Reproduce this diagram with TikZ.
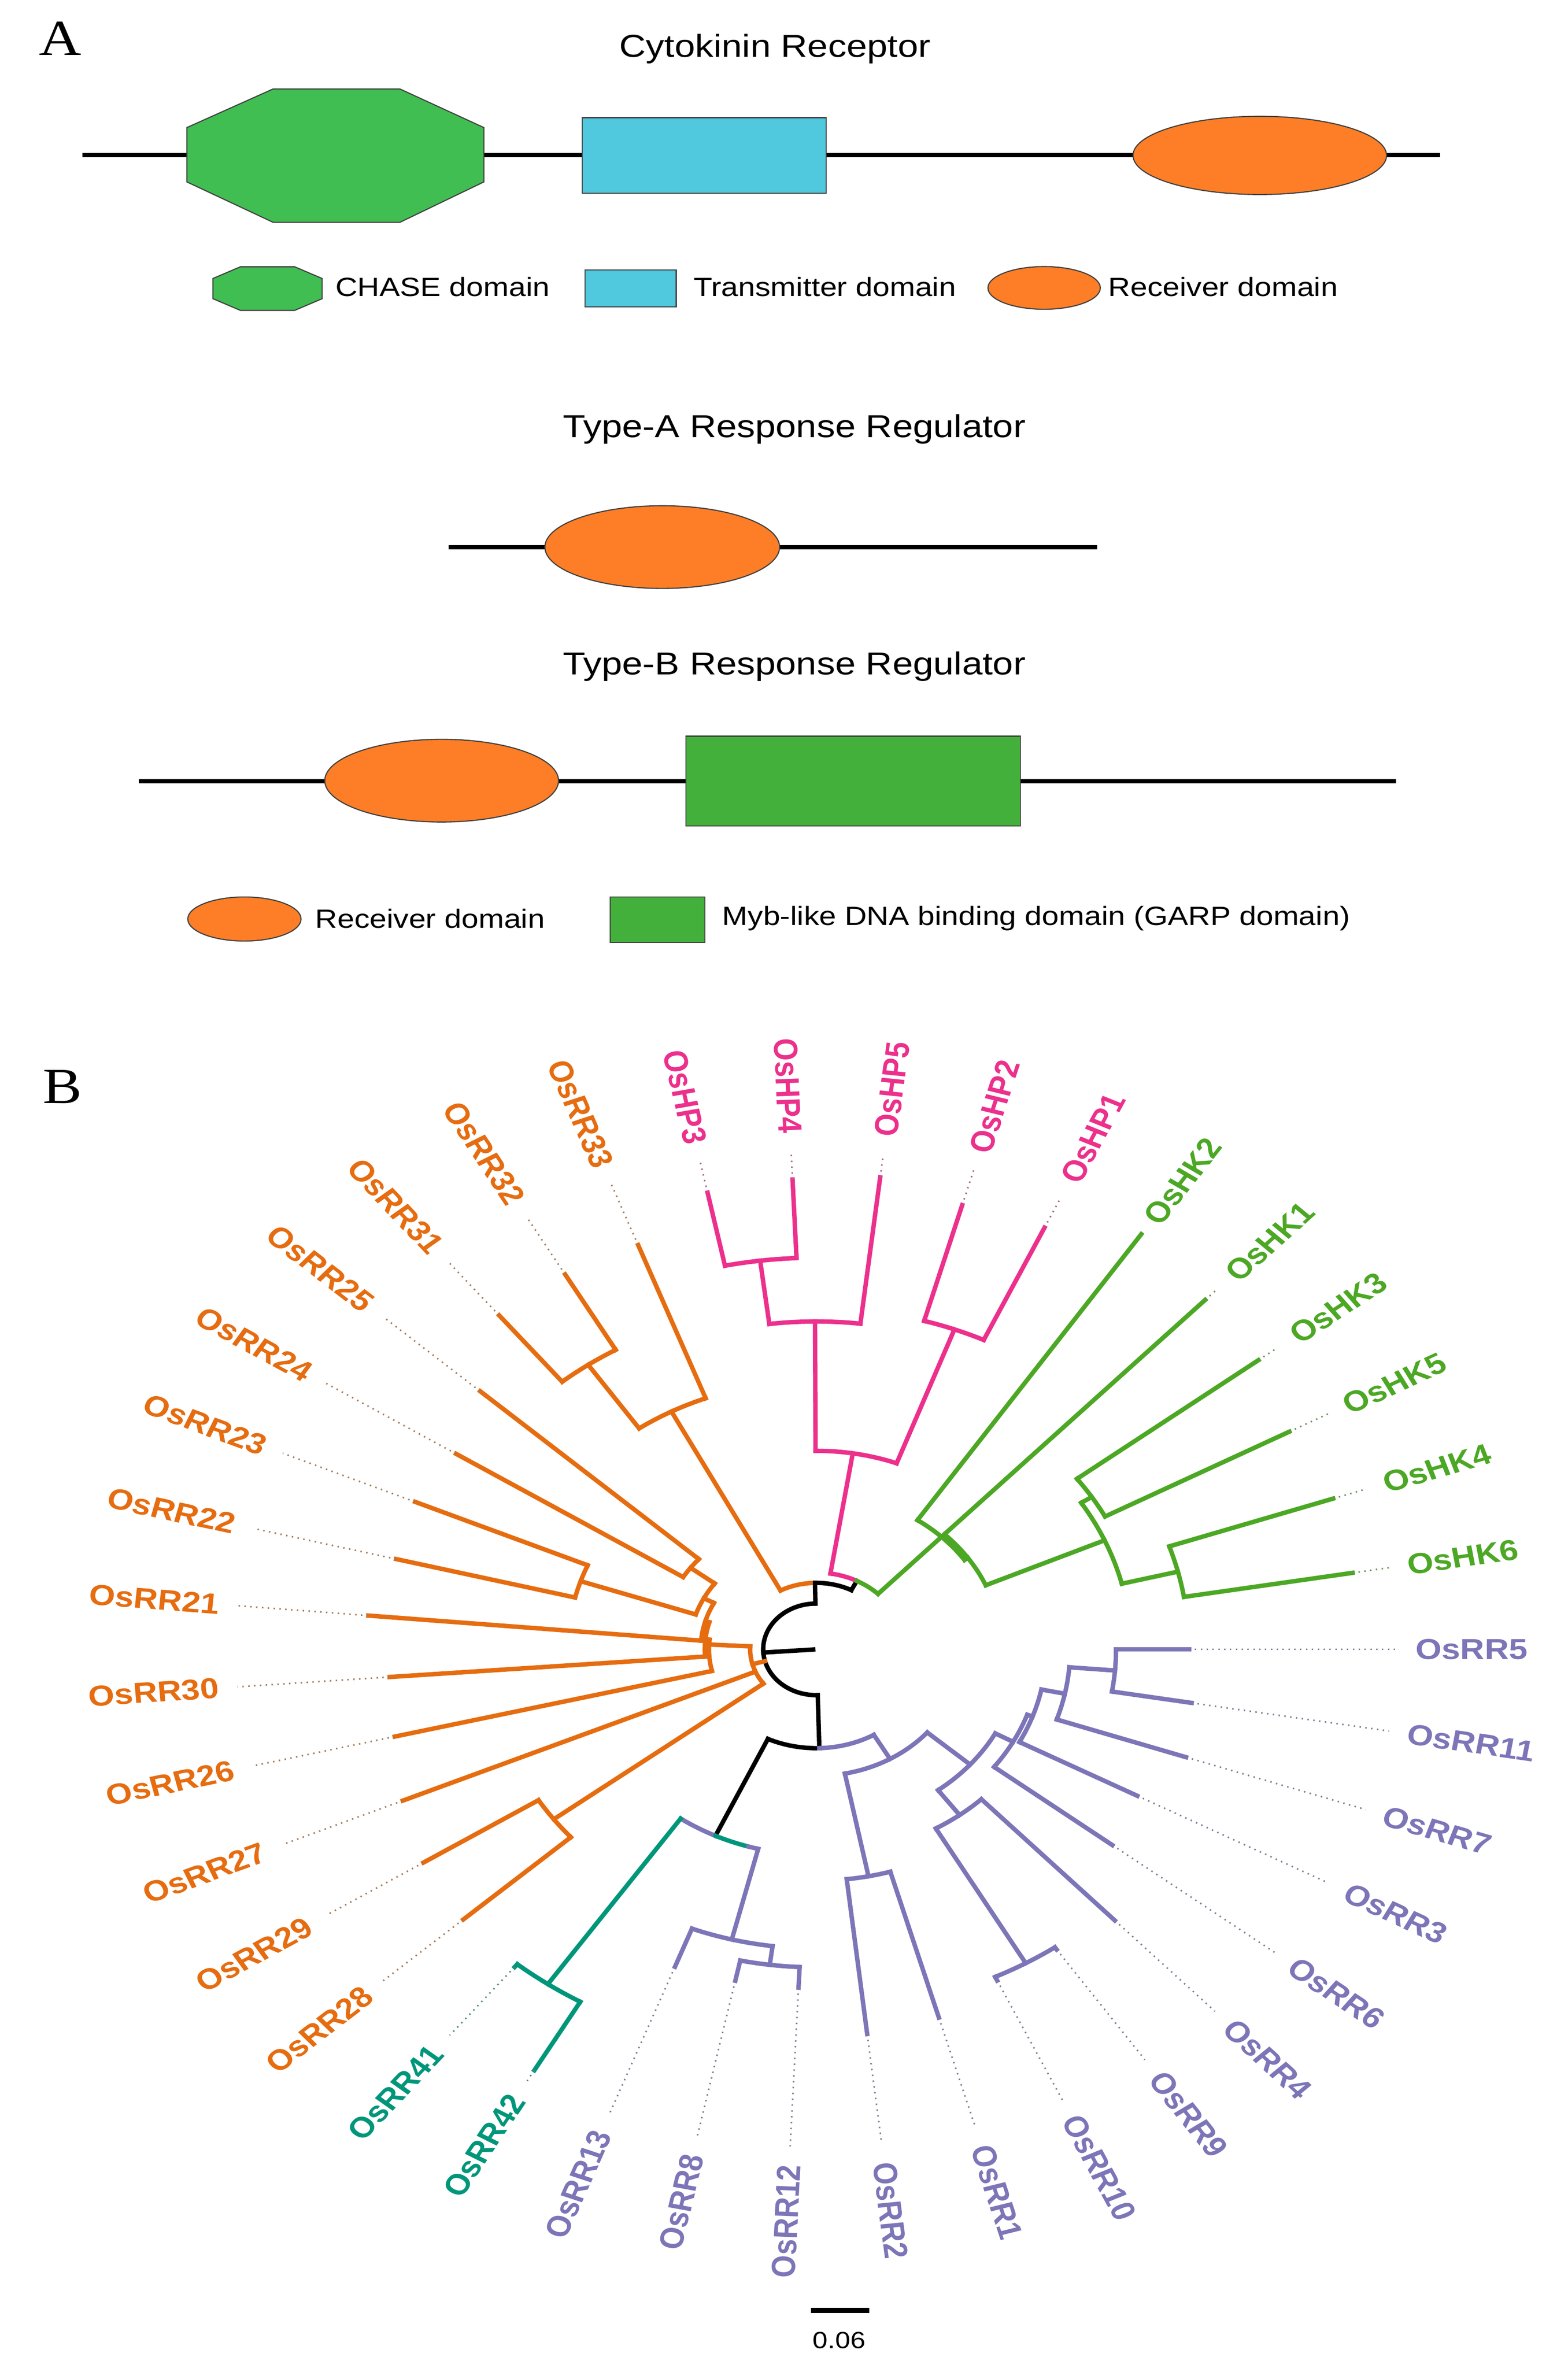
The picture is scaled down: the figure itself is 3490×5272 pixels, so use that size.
\documentclass[tikz,border=0pt]{standalone}
\usepackage{fontspec}
\setmainfont{Liberation Sans}
\newfontfamily\serifA{Liberation Serif}
\usetikzlibrary{shapes.geometric}
\definecolor{tor}{RGB}{230,108,16}
\definecolor{tpk}{RGB}{236,48,140}
\definecolor{tgr}{RGB}{76,168,36}
\definecolor{tpu}{RGB}{124,118,184}
\definecolor{tte}{RGB}{0,150,122}
\definecolor{aor}{RGB}{253,126,38}
\definecolor{agr}{RGB}{64,190,82}
\definecolor{acy}{RGB}{80,200,222}
\definecolor{agrb}{RGB}{67,176,60}
\tikzset{
  br/.style={line width=2.8pt, line cap=rect},
  lead/.style={line width=1pt, dash pattern=on 0.9pt off 2.8pt, shorten >=12pt},
  lab/.style={inner sep=0pt, outer sep=0pt, font=\bfseries\fontsize{18.3pt}{20pt}\selectfont},
  bb/.style={line width=2.7pt},
  dom/.style={draw=black!75, line width=0.7pt, inner sep=0pt},
  ttl/.style={inner sep=0pt, xscale=1.16, font=\fontsize{20.1pt}{22pt}\selectfont},
  lg/.style={inner sep=0pt, xscale=1.16, anchor=west, font=\fontsize{16.7pt}{18pt}\selectfont},
  pl/.style={inner sep=0pt, xscale=1.16, font=\serifA\fontsize{32pt}{34pt}\selectfont},
}
\newcommand\tarc[4]{\draw[br,#1] (#3:#2) arc[start angle=#3, end angle=#4, radius=#2];}
\newcommand\trad[4]{\draw[br,#1] (#2:#3) -- (#2:#4);}
\newcommand\tleaf[6]{%
  \draw[br,#2] (#3:#4) -- (#3:#5) coordinate (t#1);
  \pgfmathsetmacro\lfcos{cos(#3)}%
  \ifdim\lfcos pt<-0.0001pt
    \pgfmathsetmacro\lfrot{180-(#3)}%
    \node[lab,text=#2,xscale=1.16,rotate=\lfrot,anchor=east] (l#1) at (#3:1150) {#6};
  \else
    \pgfmathsetmacro\lfrot{-(#3)}%
    \node[lab,text=#2,xscale=1.16,rotate=\lfrot,anchor=west] (l#1) at (#3:1150) {#6};
  \fi
  \draw[lead,draw=#2!35!gray] (t#1) -- (l#1);
}
\begin{document}
\begin{tikzpicture}[x=0.01cm,y=-0.01cm]
\fill[white] (0,0) rectangle (3490,5272);
\useasboundingbox (0,0) rectangle (3490,5272);

% ---------------- Panel A ----------------
\node[pl] (pA) at (134,86) {A};
\node[ttl] (tCR) at (1725,109) {Cytokinin Receptor};
\coordinate (cr0) at (183,345); \coordinate (cr1) at (3205,345);
\draw[bb] (cr0) -- (cr1);
\draw[dom,fill=agr] (608,198) -- (890,198) -- (1077,284) -- (1077,405) -- (890,495) -- (608,495) -- (416,405) -- (416,284) -- cycle;
\node[dom,fill=acy,minimum width=5.43cm,minimum height=1.68cm] (crT) at (1567.5,346) {};
\node[dom,ellipse,fill=aor,minimum width=5.64cm,minimum height=1.74cm] (crR) at (2804,346) {};

\draw[dom,fill=agr] (535,594) -- (656,594) -- (717,620) -- (717,665) -- (656,691) -- (535,691) -- (474,665) -- (474,620) -- cycle;
\node[lg] (lgC) at (746,639) {CHASE domain};
\node[dom,fill=acy,minimum width=2.03cm,minimum height=0.82cm] (lgTb) at (1403.5,642) {};
\node[lg] (lgT) at (1543,639) {Transmitter domain};
\node[dom,ellipse,fill=aor,minimum width=2.5cm,minimum height=0.95cm] (lgRb) at (2324,641) {};
\node[lg] (lgR) at (2466,639) {Receiver domain};

\node[ttl] (tA) at (1768,955) {Type-A Response Regulator};
\coordinate (a0) at (999,1218); \coordinate (a1) at (2442,1218);
\draw[bb] (a0) -- (a1);
\node[dom,ellipse,fill=aor,minimum width=5.22cm,minimum height=1.84cm] (aR) at (1474,1218) {};

\node[ttl] (tB) at (1768,1484) {Type-B Response Regulator};
\coordinate (b0) at (309,1739); \coordinate (b1) at (3107,1739);
\draw[bb] (b0) -- (b1);
\node[dom,ellipse,fill=aor,minimum width=5.2cm,minimum height=1.84cm] (bR) at (983,1738) {};
\node[dom,fill=agrb,minimum width=7.44cm,minimum height=2.0cm] (bG) at (1899,1739) {};

\node[dom,ellipse,fill=aor,minimum width=2.52cm,minimum height=0.98cm] (lg2R) at (544,2046) {};
\node[lg] (lg2Rt) at (701,2045) {Receiver domain};
\node[dom,fill=agrb,minimum width=2.11cm,minimum height=1.01cm] (lg2G) at (1463.5,2047.5) {};
\node[lg] (lg2Gt) at (1607,2045) {Myb-like DNA binding domain (GARP domain)};

% ---------------- Panel B ----------------
\node[pl] (pB) at (139,2420) {B};

\coordinate (sb0) at (1805,5144); \coordinate (sb1) at (1935,5144);
\draw[line width=3.4pt] (sb0) -- (sb1);
\node[inner sep=0pt, xscale=1.16, font=\fontsize{14.8pt}{16pt}\selectfont] (sbl) at (1868,5210) {0.06};

\begin{scope}[shift={(1817,3672)},xscale=1.16]
% root and backbone
\draw[br] (-91:102) arc[start angle=-91,end angle=-271.5,radius=102];
\trad{black}{176}{102}{6}
\trad{black}{-91}{102}{148}
\tarc{tor}{148}{-117.7}{-91}
\tarc{black}{148}{-91}{-63}
\trad{black}{-63}{148}{171}
\tarc{tpk}{171}{-80.9}{-63}
\tarc{tgr}{171}{-63}{-46.2}
% pink clade
\trad{tpk}{-80.9}{171}{442}
\tarc{tpk}{442}{-90.2}{-69.6}
\trad{tpk}{-90.2}{442}{730}
\tarc{tpk}{730}{-97.1}{-83.35}
\trad{tpk}{-97.1}{730}{872}
\tarc{tpk}{872}{-101.6}{-92.5}
\trad{tpk}{-69.6}{442}{760}
\tarc{tpk}{760}{-74.2}{-65}
\tleaf{HP3}{tpk}{-101.6}{872}{1038}{OsHP3}
\tleaf{HP4}{tpk}{-92.5}{872}{1047}{OsHP4}
\tleaf{HP5}{tpk}{-83.35}{730}{1058}{OsHP5}
\tleaf{HP2}{tpk}{-74.2}{760}{1028}{OsHP2}
\tleaf{HP1}{tpk}{-65}{760}{1036}{OsHP1}
% green clade
\tarc{tgr}{347}{-56}{-35}
\tarc{tgr}{355}{-46.2}{-23.7}
\trad{tgr}{-35}{347}{355}
\trad{tgr}{-23.7}{355}{604}
\tarc{tgr}{604}{-32.7}{-14}
\trad{tgr}{-32.7}{604}{628}
\tarc{tgr}{628}{-37.2}{-28.1}
\trad{tgr}{-14}{604}{715}
\tarc{tgr}{715}{-18.7}{-9.4}
\tleaf{HK2}{tgr}{-56}{347}{1115}{OsHK2}
\tleaf{HK1}{tgr}{-46.2}{171}{1078}{OsHK1}
\tleaf{HK3}{tgr}{-37.2}{628}{1065}{OsHK3}
\tleaf{HK5}{tgr}{-28.1}{628}{1029}{OsHK5}
\tleaf{HK4}{tgr}{-18.7}{715}{1047}{OsHK4}
\tleaf{HK6}{tgr}{-9.4}{715}{1043}{OsHK6}
% orange, upper part
\trad{tor}{-117.7}{148}{598}
\tarc{tor}{598}{-124.65}{-110.8}
\trad{tor}{-124.65}{598}{770}
\tarc{tor}{770}{-129.3}{-120}
\tleaf{RR33}{tor}{-110.8}{598}{963}{OsRR33}
\tleaf{RR32}{tor}{-120}{770}{964}{OsRR32}
\tleaf{RR31}{tor}{-129.3}{770}{961}{OsRR31}
% orange, lower part
\trad{tor}{165}{102}{127}
\tarc{tor}{127}{143.1}{183}
\trad{tor}{183}{127}{206}
\tarc{tor}{206}{166.5}{186}
\trad{tor}{186}{206}{214}
\tarc{tor}{214}{175.7}{196.4}
\trad{tor}{196.4}{214}{222}
\tarc{tor}{222}{185}{207.75}
\trad{tor}{207.75}{222}{244}
\tarc{tor}{244}{198.55}{216.95}
\trad{tor}{216.95}{244}{302}
\tarc{tor}{302}{212.2}{221.7}
\trad{tor}{198.55}{244}{477}
\tarc{tor}{477}{194}{203.1}
\trad{tor}{143.1}{127}{630}
\tarc{tor}{630}{138.4}{147.8}
\tleaf{RR25}{tor}{221.7}{302}{864}{OsRR25}
\tleaf{RR24}{tor}{212.2}{302}{817}{OsRR24}
\tleaf{RR23}{tor}{203.1}{477}{837}{OsRR23}
\tleaf{RR22}{tor}{194}{477}{831}{OsRR22}
\tleaf{RR21}{tor}{185}{222}{863}{OsRR21}
\tleaf{RR30}{tor}{175.7}{214}{821}{OsRR30}
\tleaf{RR26}{tor}{166.5}{206}{832}{OsRR26}
\tleaf{RR27}{tor}{157}{127}{862}{OsRR27}
\tleaf{RR29}{tor}{147.8}{630}{891}{OsRR29}
\tleaf{RR28}{tor}{138.4}{630}{906}{OsRR28}
% lower backbone and purple clade
\trad{black}{88.5}{102}{220}
\tarc{black}{220}{88.5}{115}
\tarc{tpu}{220}{59.9}{88.5}
\trad{tpu}{59.9}{220}{282}
\tarc{tpu}{282}{41}{78.8}
\trad{tpu}{78.8}{282}{515}
\tarc{tpu}{515}{74}{83.5}
\trad{tpu}{41}{282}{391}
\tarc{tpu}{391}{28.6}{53.3}
\trad{tpu}{53.3}{391}{460}
\tarc{tpu}{460}{46.5}{60.1}
\trad{tpu}{60.1}{460}{806}
\tarc{tpu}{806}{55.4}{64.8}
\trad{tpu}{28.6}{391}{430}
\tarc{tpu}{430}{19.8}{37.5}
\trad{tpu}{19.8}{430}{441}
\tarc{tpu}{441}{11.7}{27.9}
\trad{tpu}{11.7}{441}{487}
\tarc{tpu}{487}{4.7}{18.7}
\trad{tpu}{4.7}{487}{575}
\tarc{tpu}{575}{0}{9.4}
\tleaf{RR5}{tpu}{0}{575}{715}{OsRR5}
\tleaf{RR11}{tpu}{9.4}{575}{730}{OsRR11}
\tleaf{RR7}{tpu}{18.7}{487}{749}{OsRR7}
\tleaf{RR3}{tpu}{27.9}{441}{697}{OsRR3}
\tleaf{RR6}{tpu}{37.5}{430}{716}{OsRR6}
\tleaf{RR4}{tpu}{46.5}{460}{832}{OsRR4}
\tleaf{RR9}{tpu}{55.4}{806}{812}{OsRR9}
\tleaf{RR10}{tpu}{64.8}{806}{815}{OsRR10}
\tleaf{RR1}{tpu}{74}{515}{853}{OsRR1}
\tleaf{RR2}{tpu}{83.5}{515}{862}{OsRR2}
% lower-left: teal and purple
\trad{black}{115}{220}{458}
\tarc{tpu}{458}{115}{124.65}
\tarc{tte}{458}{106.5}{115}
\tarc{tpu}{458}{104.1}{106.5}
\trad{tte}{124.65}{458}{906}
\tarc{tte}{906}{120}{129.3}
\trad{tpu}{104.1}{458}{666}
\tarc{tpu}{666}{97.25}{111}
\trad{tpu}{97.25}{666}{708}
\tarc{tpu}{708}{92.6}{101.9}
\tleaf{RR41}{tte}{129.3}{906}{914}{OsRR41}
\tleaf{RR42}{tte}{120}{906}{1082}{OsRR42}
\tleaf{RR13}{tpu}{111}{666}{757}{OsRR13}
\tleaf{RR8}{tpu}{101.9}{708}{754}{OsRR8}
\tleaf{RR12}{tpu}{92.6}{708}{754}{OsRR12}
\end{scope}
\end{tikzpicture}
\end{document}
